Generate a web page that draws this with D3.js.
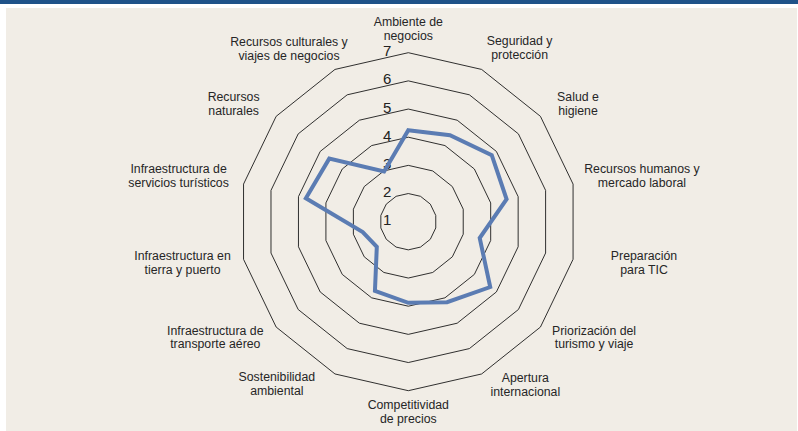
<!DOCTYPE html>
<meta charset="utf-8">
<style>
  body { margin: 0; background: #fff; }
  svg { display: block; font-family: "Liberation Sans", Arial, sans-serif; }
</style>
<svg width="798" height="431"></svg>
<script src="https://cdn.jsdelivr.net/npm/d3@7"></script>
<script>

// pillar names, clockwise from the top
var pillars = [
    ["Ambiente de", "negocios"],
    ["Seguridad y", "protección"],
    ["Salud e", "higiene"],
    ["Recursos humanos y", "mercado laboral"],
    ["Preparación", "para TIC"],
    ["Priorización del", "turismo y viaje"],
    ["Apertura", "internacional"],
    ["Competitividad", "de precios"],
    ["Sostenibilidad", "ambiental"],
    ["Infraestructura de", "transporte aéreo"],
    ["Infraestructura en", "tierra y puerto"],
    ["Infraestructura de", "servicios turísticos"],
    ["Recursos", "naturales"],
    ["Recursos culturales y", "viajes de negocios"]
];

var scores = [4.25, 4.41, 4.79, 4.58, 3.60, 4.72, 4.17, 3.88, 3.73, 2.43, 2.66, 4.73, 4.59, 2.98];

var ticks = [1, 2, 3, 4, 5, 6, 7];

// small hand nudges (px) for where the label boxes sit, like the original layout
var labelNudge = [
    [0, 0], [0, 0], [8, 2], [0, -3], [27, -2], [3, -5], [4, -11],
    [0, -3], [-15, -12], [-4, -5], [-2, -2], [-4, -3], [-8, 2], [18, 1]
];

var svg = d3.select("svg");

// panel
svg.append("rect").attr("x", 0).attr("y", 0).attr("width", 798).attr("height", 4).attr("fill", "#1f5288");
svg.append("rect").attr("x", 6).attr("y", 8).attr("width", 791).attr("height", 423).attr("fill", "#f1ede6");

var cx = 408.3, cy = 221.7;
var n = pillars.length;

var r = d3.scaleLinear().domain([1, 7]).range([0, 169]);
var angle = function(i) { return i * 2 * Math.PI / n; };

var g = svg.append("g").attr("transform", "translate(" + cx + "," + cy + ")");

var radial = d3.lineRadial()
    .angle(function(d, i) { return angle(i); })
    .radius(function(d) { return r(d); })
    .curve(d3.curveLinearClosed);

// grid rings
g.selectAll(".ring")
    .data(ticks.filter(function(t) { return t > 1; }))
    .enter().append("path")
    .attr("class", "ring")
    .attr("d", function(t) { return radial(d3.range(n).map(function() { return t; })); })
    .attr("fill", "none")
    .attr("stroke", "#1a1a1a")
    .attr("stroke-width", 0.9);

// tick labels
g.selectAll(".tick")
    .data(ticks)
    .enter().append("text")
    .attr("class", "tick")
    .attr("x", -17)
    .attr("y", function(t) { return -r(t) + 3.5; })
    .attr("text-anchor", "end")
    .attr("font-size", 15)
    .attr("fill", "#222")
    .text(function(t) { return t; });

// score line
g.append("path")
    .attr("d", radial(scores))
    .attr("fill", "none")
    .attr("stroke", "#5b7cb3")
    .attr("stroke-width", 4)
    .attr("stroke-linejoin", "miter");

// pillar labels
var R = 180, lh = 13.8;
pillars.forEach(function(lines, i) {
    var s = Math.sin(angle(i)), c = Math.cos(angle(i));
    var t = g.append("text")
        .attr("font-size", 12.3)
        .attr("fill", "#262626")
        .attr("text-anchor", "middle");
    lines.forEach(function(line, k) {
        t.append("tspan").attr("x", 0).attr("y", k * lh).text(line);
    });
    var w = t.node().getBBox().width;
    var side = Math.abs(s) < 0.1 ? 0 : (s > 0 ? 1 : -1);
    var px = R * s + side * w / 2 + labelNudge[i][0];
    var py = -R * c - c * 13 + labelNudge[i][1];
    t.attr("transform", "translate(" + px + "," + (py - 2.4) + ")");
});

</script>
